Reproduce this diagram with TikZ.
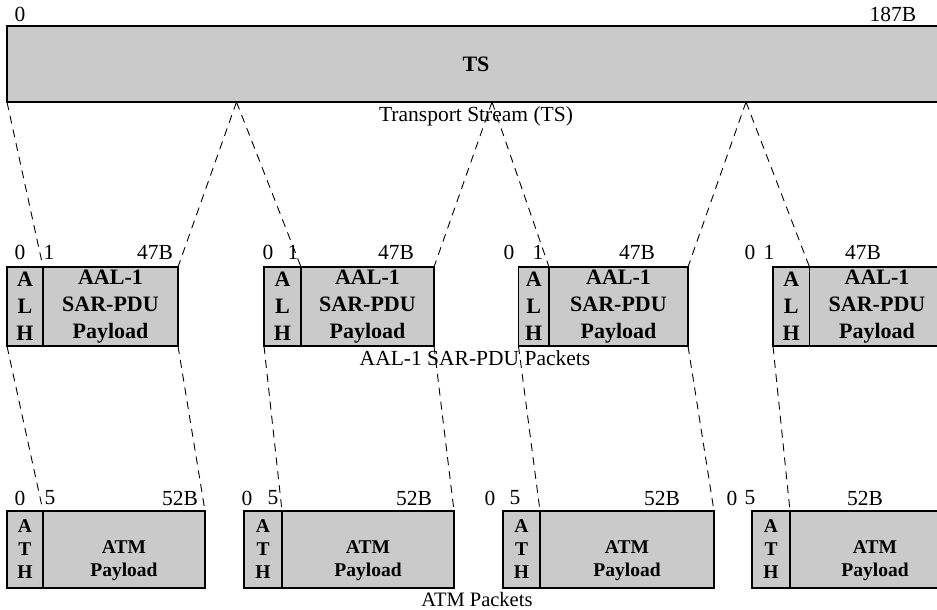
\documentclass[tikz,border=0pt]{standalone}
\usepackage{fontspec}
\setmainfont{Liberation Serif}
\definecolor{pktgray}{RGB}{202,202,202}
\begin{document}
\begin{tikzpicture}[x=1pt,y=-1pt,
  box/.style={draw=black, line width=1.6pt, fill=pktgray, inner sep=0pt, outer sep=0pt, anchor=north west, align=center},
  midbox/.style={box, minimum height=79pt, font=\fontsize{22}{27}\selectfont\bfseries},
  lowbox/.style={box, minimum height=77pt, font=\fontsize{19.5}{23}\selectfont\bfseries},
  lbl/.style={inner sep=0pt, font=\fontsize{21.5}{25}\selectfont},
  ttl/.style={inner sep=0pt, font=\fontsize{21.5}{25}\selectfont},
  dline/.style={dashed, dash pattern=on 8pt off 6pt, line width=0.9pt}]
\useasboundingbox (0,0) rectangle (937,610);
\clip (0,0) rectangle (937,610);

% Transport stream
\node[box, minimum width=950pt, minimum height=76pt] (ts) at (7,26) {};
\node[inner sep=0pt, font=\fontsize{22}{26}\selectfont\bfseries] (tsl) at (476,64) {TS};
\node[lbl] (ts0) at (20,14) {0};
\node[lbl] (ts187) at (893,14) {187B};
\node[ttl] (tstitle) at (476,116) {Transport Stream (TS)};
\coordinate (a1) at (236.5,102);
\coordinate (a2) at (492,102);
\coordinate (a3) at (746,102);

% AAL-1 SAR-PDU packets
\node[midbox, minimum width=36pt] (p1h) at (7,267) {A\\L\\H};
\node[midbox, minimum width=135pt] (p1p) at (43,267) {AAL-1\\SAR-PDU\\Payload};
\node[midbox, minimum width=37pt] (p2h) at (264,267) {A\\L\\H};
\node[midbox, minimum width=133pt] (p2p) at (301,267) {AAL-1\\SAR-PDU\\Payload};
\node[midbox, minimum width=30.5pt] (p3h) at (518.5,267) {A\\L\\H};
\node[midbox, minimum width=139pt] (p3p) at (549,267) {AAL-1\\SAR-PDU\\Payload};
\node[midbox, minimum width=36.5pt] (p4h) at (773,267) {A\\L\\H};
\node[midbox, minimum width=135pt] (p4p) at (809.5,267) {AAL-1\\SAR-PDU\\Payload};

\node[lbl] (m10) at (20,252) {0};
\node[lbl] (m11) at (49,252) {1};
\node[lbl] (m1e) at (155,252) {47B};
\node[lbl] (m20) at (268,252) {0};
\node[lbl] (m21) at (293,252) {1};
\node[lbl] (m2e) at (396,252) {47B};
\node[lbl] (m30) at (509,252) {0};
\node[lbl] (m31) at (538,252) {1};
\node[lbl] (m3e) at (637,252) {47B};
\node[lbl] (m40) at (750,252) {0};
\node[lbl] (m41) at (769,252) {1};
\node[lbl] (m4e) at (863,252) {47B};
\node[ttl] (midtitle) at (475,358) {AAL-1 SAR-PDU Packets};

% ATM packets
\node[lowbox, minimum width=36pt] (q1h) at (7,511) {A\\T\\H};
\node[lowbox, minimum width=162pt] (q1p) at (43,511) {\phantom{A}\\ATM\\Payload};
\node[lowbox, minimum width=38pt] (q2h) at (244,511) {A\\T\\H};
\node[lowbox, minimum width=172pt] (q2p) at (282,511) {\phantom{A}\\ATM\\Payload};
\node[lowbox, minimum width=37pt] (q3h) at (503,511) {A\\T\\H};
\node[lowbox, minimum width=174pt] (q3p) at (540,511) {\phantom{A}\\ATM\\Payload};
\node[lowbox, minimum width=38pt] (q4h) at (752,511) {A\\T\\H};
\node[lowbox, minimum width=170pt] (q4p) at (790,511) {\phantom{A}\\ATM\\Payload};

\node[lbl] (b10) at (20,498) {0};
\node[lbl] (b15) at (50,498) {5};
\node[lbl] (b1e) at (180,498) {52B};
\node[lbl] (b20) at (247,498) {0};
\node[lbl] (b25) at (273,498) {5};
\node[lbl] (b2e) at (414,498) {52B};
\node[lbl] (b30) at (490,498) {0};
\node[lbl] (b35) at (515,498) {5};
\node[lbl] (b3e) at (662,498) {52B};
\node[lbl] (b40) at (732,498) {0};
\node[lbl] (b45) at (750,498) {5};
\node[lbl] (b4e) at (865,498) {52B};
\node[ttl, font=\fontsize{20.5}{24}\selectfont] (lowtitle) at (477,599) {ATM Packets};

% dashed mapping lines: TS -> SAR-PDU payloads
\draw[dline] (ts.south west) -- (p1p.north west);
\draw[dline] (a1) -- (p1p.north east);
\draw[dline] (a1) -- (p2p.north west);
\draw[dline] (a2) -- (p2p.north east);
\draw[dline] (a2) -- (p3p.north west);
\draw[dline] (a3) -- (p3p.north east);
\draw[dline] (a3) -- (p4p.north west);

% SAR-PDU -> ATM payloads
\draw[dline] (p1h.south west) -- (q1p.north west);
\draw[dline] (p1p.south east) -- (q1p.north east);
\draw[dline] (p2h.south west) -- (q2p.north west);
\draw[dline] (p2p.south east) -- (q2p.north east);
\draw[dline] (p3h.south west) -- (q3p.north west);
\draw[dline] (p3p.south east) -- (q3p.north east);
\draw[dline] (p4h.south west) -- (q4p.north west);
\end{tikzpicture}
\end{document}
